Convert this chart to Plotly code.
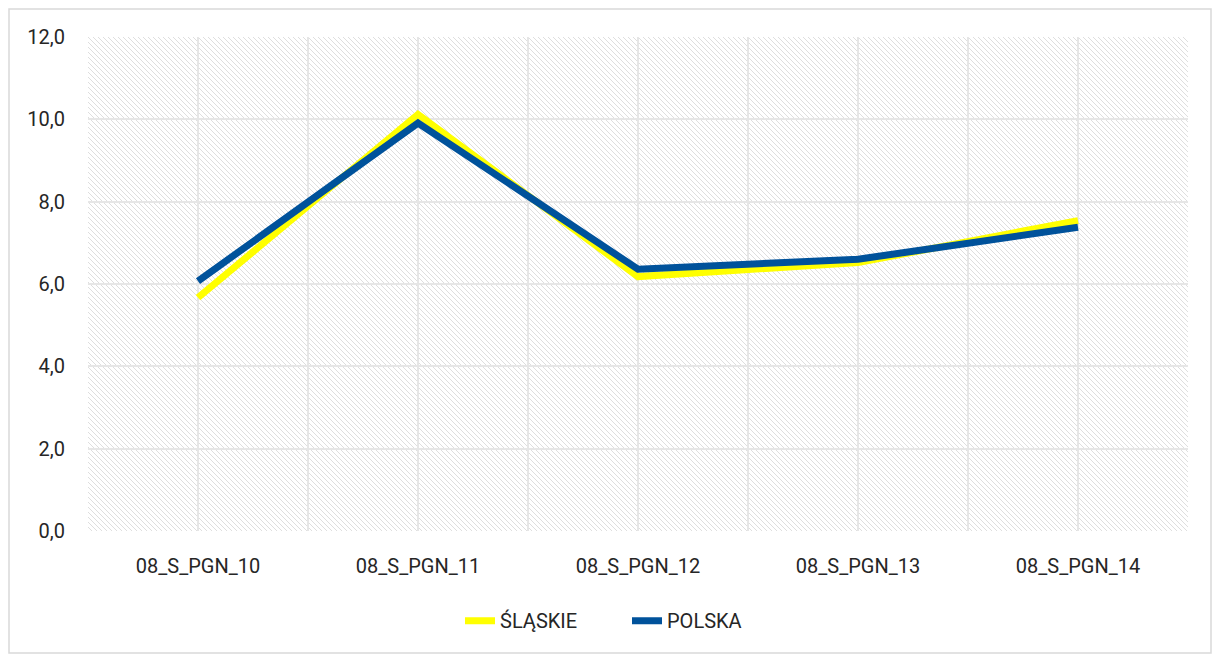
import base64
import plotly.graph_objects as go

# Indicator categories and values per region
categories = ["08_S_PGN_10", "08_S_PGN_11", "08_S_PGN_12", "08_S_PGN_13", "08_S_PGN_14"]
slaskie = [5.67, 10.12, 6.18, 6.52, 7.54]
polska = [6.07, 9.91, 6.36, 6.60, 7.38]
y_ticks = [0, 2, 4, 6, 8, 10, 12]

W, H = 1214, 655
ML, MR, MT, MB = 88, 26, 37, 124
PW, PH = W - ML - MR, H - MT - MB

# Diagonal hatch used as the plot-area background
hatch_svg = (
    f'<svg xmlns="http://www.w3.org/2000/svg" width="{PW}" height="{PH}">'
    '<defs><pattern id="h" width="5" height="5" patternUnits="userSpaceOnUse">'
    '<path d="M-1,-1 L6,6 M-1,4 L1,6 M4,-1 L6,1" stroke="#dedede" stroke-width="1"/>'
    '</pattern></defs>'
    f'<rect width="{PW}" height="{PH}" fill="white"/>'
    f'<rect width="{PW}" height="{PH}" fill="url(#h)"/></svg>'
)
hatch_uri = "data:image/svg+xml;base64," + base64.b64encode(hatch_svg.encode()).decode()

x_pos = list(range(len(categories)))

fig = go.Figure()
fig.add_trace(go.Scatter(
    x=x_pos, y=slaskie, name="ŚLĄSKIE", mode="lines",
    line=dict(color="#FFFF00", width=7),
))
fig.add_trace(go.Scatter(
    x=x_pos, y=polska, name="POLSKA", mode="lines",
    line=dict(color="#00529B", width=7),
))

font_main = dict(family="Roboto, sans-serif", size=20, color="#262626")

fig.update_layout(
    width=W, height=H,
    margin=dict(l=ML, r=MR, t=MT, b=MB),
    paper_bgcolor="white",
    plot_bgcolor="white",
    separators=", ",
    font=font_main,
    showlegend=True,
    legend=dict(
        orientation="h", x=0.49, xanchor="center", y=-0.142, yanchor="top",
        font=font_main, itemwidth=30, entrywidth=122, entrywidthmode="pixels",
    ),
    xaxis=dict(
        range=[-0.5, len(categories) - 0.5],
        tickmode="array", tickvals=x_pos, ticktext=categories,
        showgrid=True, gridcolor="#e6e6e6", gridwidth=1.5,
        minor=dict(tickmode="array", tickvals=[i - 0.5 for i in range(len(categories) + 1)],
                   showgrid=True, gridcolor="#e6e6e6", gridwidth=1.5),
        zeroline=False, showline=False, ticks="",
        ticklabelstandoff=21, fixedrange=True,
    ),
    yaxis=dict(
        range=[0, 12],
        tickmode="array", tickvals=y_ticks, tickformat=".1f",
        showgrid=True, gridcolor="#e6e6e6", gridwidth=1.5,
        zeroline=False, showline=False, ticks="",
        ticklabelstandoff=22, fixedrange=True,
    ),
    images=[dict(
        source=hatch_uri, xref="paper", yref="paper",
        x=0, y=1, sizex=1, sizey=1, sizing="stretch",
        xanchor="left", yanchor="top", layer="below",
    )],
    shapes=[dict(
        type="rect", xref="paper", yref="paper",
        x0=(9 - ML) / PW, x1=(1211 - ML) / PW,
        y0=-(653 - MT - PH) / PH, y1=1 + (MT - 9) / PH,
        line=dict(color="#d9d9d9", width=1.5), fillcolor="rgba(0,0,0,0)",
        layer="below",
    )],
)

fig.write_html("out.html")
